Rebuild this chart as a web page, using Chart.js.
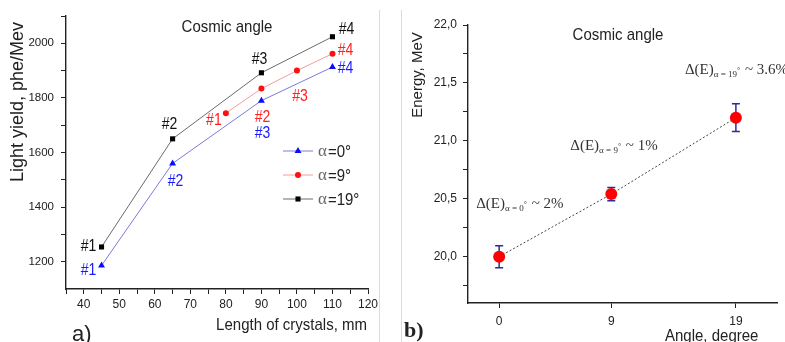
<!DOCTYPE html>
<html><head><meta charset="utf-8">
<script src="https://cdn.jsdelivr.net/npm/chart.js@4.4.1/dist/chart.umd.min.js"></script>
<style>
html,body{margin:0;padding:0;background:#fff;}
#wrap{position:relative;width:785px;height:342px;overflow:hidden;background:#fff;}
canvas{position:absolute;left:0;top:0;}
.sep{position:absolute;top:10px;width:1px;height:332px;background:#dcdcdc;}
</style></head><body>
<div id="wrap">
<div class="sep" style="left:379px"></div>
<div class="sep" style="left:401px"></div>
<canvas id="ca" width="785" height="342"></canvas>
<canvas id="cb" width="785" height="342"></canvas>
</div>
<script>
// ---------- Panel a) data ----------
const seriesNames = ['α=0°', 'α=9°', 'α=19°'];
const lengthA0 = [45, 65, 90, 110];
const yieldA0 = [1186, 1560, 1790, 1913];
const lengthA9 = [80, 90, 100, 110];
const yieldA9 = [1744, 1834, 1900, 1962];
const lengthA19 = [45, 65, 90, 110];
const yieldA19 = [1254, 1650, 1892, 2024];
const crystalA0 = ['#1', '#2', '#3', '#4'];
const crystalA9 = ['#1', '#2', '#3', '#4'];
const crystalA19 = ['#1', '#2', '#3', '#4'];
const lengthTicks = [35, 40, 45, 50, 55, 60, 65, 70, 75, 80, 85, 90, 95, 100, 105, 110, 115, 120];
const lengthTickLabels = [40, 50, 60, 70, 80, 90, 100, 110, 120];
const yieldTicks = [1200, 1300, 1400, 1500, 1600, 1700, 1800, 1900, 2000, 2100];
const yieldTickLabels = [1200, 1400, 1600, 1800, 2000];

// ---------- Panel b) data ----------
const angles = [0, 9, 19];
const energy = [20.0, 20.54, 21.2];
const energyErr = [0.095, 0.058, 0.12];
const angleTicks = [0, 9, 19];
const energyTicks = [19.75, 20.0, 20.25, 20.5, 20.75, 21.0, 21.25, 21.5, 21.75, 22.0];
const energyTickLabels = ['20,0', '20,5', '21,0', '21,5', '22,0'];
const spreadSub = ['α = 0', 'α = 9', 'α = 19'];
const spreadVal = ['~ 2%', '~ 1%', '~ 3.6%'];

const SANS = "'Liberation Sans', Arial, sans-serif";
const SERIF = "'Liberation Serif', 'Times New Roman', serif";
Chart.defaults.font.family = SANS;
Chart.defaults.color = '#222';

const zip = (xs, ys) => xs.map((x, i) => ({x: x, y: ys[i]}));

// draw text slightly stretched vertically (the reference figure is stretched)
function stretchText(ctx, text, x, y, sy) {
  ctx.save();
  ctx.translate(x, y);
  ctx.scale(1, sy);
  ctx.fillText(text, 0, 0);
  ctx.restore();
}

// ---------------- Chart a ----------------
const seriesStyle = [
  {line: '#7a7adc', mark: '#0a0aff', text: '#1a1aff', style: 'triangle', r: 4},
  {line: '#f29c9c', mark: '#ff1010', text: '#ff2020', style: 'circle', r: 3},
  {line: '#6a6a6a', mark: '#000000', text: '#111111', style: 'rect', r: 3.6}
];
const crystalLabels = [crystalA0, crystalA9, crystalA19];
const labelOffsets = [
  [[-13, 5], [3, 18], [1, 33], [13, 2]],
  [[-12, 7], [1, 29], [3, 26], [13, -3]],
  [[-13, 0], [-3, -14], [-2, -13], [14, -7]]
];

const panelAPlugin = {
  id: 'panelA',
  afterDatasetsDraw(chart) {
    const ctx = chart.ctx;
    ctx.save();
    ctx.font = '14px ' + SANS;
    ctx.textAlign = 'center';
    ctx.textBaseline = 'middle';
    chart.data.datasets.forEach((ds, si) => {
      const meta = chart.getDatasetMeta(si);
      meta.data.forEach((pt, i) => {
        const off = labelOffsets[si][i];
        ctx.fillStyle = seriesStyle[si].text;
        stretchText(ctx, crystalLabels[si][i], pt.x + off[0], pt.y + off[1], 1.15);
      });
    });
    // legend
    const lx0 = 283, lx1 = 313, ly = [151, 175, 199];
    seriesNames.forEach((name, si) => {
      const st = seriesStyle[si];
      ctx.strokeStyle = st.line; ctx.lineWidth = 1;
      ctx.beginPath(); ctx.moveTo(lx0, ly[si]); ctx.lineTo(lx1, ly[si]); ctx.stroke();
      ctx.fillStyle = st.mark; ctx.strokeStyle = st.mark;
      Chart.helpers.drawPoint(ctx, {pointStyle: st.style, radius: st.r, borderWidth: 0}, (lx0 + lx1) / 2, ly[si]);
      ctx.textAlign = 'left';
      ctx.fillStyle = '#666';
      ctx.font = '17px ' + SERIF;
      ctx.fillText(name.charAt(0), 318, ly[si] + 1);
      const w = ctx.measureText(name.charAt(0)).width;
      ctx.fillStyle = '#222';
      ctx.font = '15px ' + SANS;
      stretchText(ctx, name.slice(1), 318 + w + 1, ly[si] + 1, 1.1);
    });
    ctx.restore();
  },
  afterDraw(chart) {
    const ctx = chart.ctx;
    ctx.save();
    ctx.fillStyle = '#222';
    ctx.textBaseline = 'alphabetic';
    ctx.font = '15px ' + SANS;
    ctx.textAlign = 'center';
    stretchText(ctx, 'Cosmic angle', 227, 32, 1.12);
    ctx.textAlign = 'right';
    stretchText(ctx, 'Length of crystals, mm', 367, 330, 1.12);
    ctx.textAlign = 'left';
    ctx.font = '22px ' + SANS;
    ctx.fillText('a)', 72, 341);
    ctx.translate(18, 102);
    ctx.rotate(-Math.PI / 2);
    ctx.textAlign = 'center';
    ctx.textBaseline = 'middle';
    ctx.font = '18px ' + SANS;
    ctx.fillText('Light yield, phe/Mev', 0, 0);
    ctx.restore();
  }
};

const dsA = [[lengthA0, yieldA0], [lengthA9, yieldA9], [lengthA19, yieldA19]].map((p, si) => ({
  label: seriesNames[si],
  data: zip(p[0], p[1]),
  borderColor: seriesStyle[si].line,
  borderWidth: 1,
  pointStyle: seriesStyle[si].style,
  pointRadius: seriesStyle[si].r,
  pointBackgroundColor: seriesStyle[si].mark,
  pointBorderColor: seriesStyle[si].mark,
  pointBorderWidth: 0,
  tension: 0,
  fill: false
}));

new Chart(document.getElementById('ca'), {
  type: 'line',
  data: {datasets: dsA},
  options: {
    responsive: false, animation: false,
    layout: {padding: {left: 0, top: 16, right: 785 - 368, bottom: 0}},
    plugins: {legend: {display: false}, tooltip: {enabled: false}},
    scales: {
      x: {
        type: 'linear', min: 35, max: 120,
        afterBuildTicks: s => { s.ticks = lengthTicks.map(v => ({value: v})); },
        ticks: {autoSkip: false, maxRotation: 0, padding: 3, color: '#222', font: {size: 12},
          callback: v => lengthTickLabels.includes(v) ? String(v) : ''},
        grid: {drawOnChartArea: false, tickLength: 5, tickColor: '#222', tickWidth: 1},
        border: {color: '#222', width: 1.4},
        afterFit: s => { s.height = 342 - 289; s.paddingLeft = 0; s.paddingRight = 0; }
      },
      y: {
        type: 'linear', min: 1100, max: 2100,
        afterBuildTicks: s => { s.ticks = yieldTicks.map(v => ({value: v})); },
        ticks: {autoSkip: false, padding: 7, color: '#222', font: {size: 11.5},
          callback: v => yieldTickLabels.includes(v) ? String(v) : ''},
        grid: {drawOnChartArea: false, tickLength: 5, tickColor: '#222', tickWidth: 1},
        border: {color: '#222', width: 1.4},
        afterFit: s => { s.width = 66; s.paddingTop = 0; s.paddingBottom = 0; }
      }
    }
  },
  plugins: [panelAPlugin]
});

// ---------------- Chart b ----------------
const spreadOffsets = [[-23, -49], [-41, -44], [-51, -44]];

const panelBPlugin = {
  id: 'panelB',
  beforeDatasetsDraw(chart) {
    const {ctx, scales: {x, y}} = chart;
    ctx.save();
    ctx.strokeStyle = '#2d2d98';
    ctx.lineWidth = 1.5;
    angles.forEach((a, i) => {
      const px = x.getPixelForValue(a);
      const top = y.getPixelForValue(energy[i] + energyErr[i]);
      const bot = y.getPixelForValue(energy[i] - energyErr[i]);
      ctx.beginPath();
      ctx.moveTo(px, top); ctx.lineTo(px, bot);
      ctx.moveTo(px - 4, top); ctx.lineTo(px + 4, top);
      ctx.moveTo(px - 4, bot); ctx.lineTo(px + 4, bot);
      ctx.stroke();
    });
    ctx.restore();
  },
  afterDraw(chart) {
    const {ctx, scales: {x, y}} = chart;
    ctx.save();
    ctx.fillStyle = '#222';
    ctx.textBaseline = 'alphabetic';
    ctx.font = '15px ' + SANS;
    ctx.textAlign = 'center';
    stretchText(ctx, 'Cosmic angle', 618, 40, 1.12);
    ctx.textAlign = 'left';
    stretchText(ctx, 'Angle, degree', 665, 341, 1.12);
    ctx.font = 'bold 22px ' + SERIF;
    ctx.fillText('b)', 404, 337);
    // spread annotations
    ctx.fillStyle = '#333';
    angles.forEach((a, i) => {
      let px = x.getPixelForValue(a) + spreadOffsets[i][0];
      const base = y.getPixelForValue(energy[i]) + spreadOffsets[i][1];
      ctx.font = '15px ' + SERIF;
      ctx.fillText('Δ(E)', px, base);
      px += ctx.measureText('Δ(E)').width;
      ctx.font = '9px ' + SERIF;
      ctx.fillText(spreadSub[i], px, base + 3);
      px += ctx.measureText(spreadSub[i]).width;
      ctx.font = '8px ' + SERIF;
      ctx.fillText('°', px, base - 1);
      px += ctx.measureText('°').width + 1;
      ctx.font = '15px ' + SERIF;
      ctx.fillText(' ' + spreadVal[i], px, base);
    });
    ctx.fillStyle = '#222';
    ctx.translate(418, 75);
    ctx.rotate(-Math.PI / 2);
    ctx.textAlign = 'center';
    ctx.textBaseline = 'middle';
    ctx.font = '15px ' + SANS;
    ctx.fillText('Energy, MeV', 0, 0);
    ctx.restore();
  }
};

new Chart(document.getElementById('cb'), {
  type: 'line',
  data: {datasets: [{
    label: 'Energy',
    data: zip(angles, energy),
    borderColor: '#444',
    borderWidth: 1,
    borderDash: [2, 2],
    pointStyle: 'circle',
    pointRadius: 6,
    pointBackgroundColor: '#ff0000',
    pointBorderColor: '#ee0000',
    pointBorderWidth: 0,
    tension: 0,
    fill: false
  }]},
  options: {
    responsive: false, animation: false,
    layout: {padding: {left: 401, top: 25, right: 785 - 777, bottom: 0}},
    plugins: {legend: {display: false}, tooltip: {enabled: false}},
    scales: {
      x: {
        type: 'linear', min: -2.5, max: 22.3,
        afterBuildTicks: s => { s.ticks = angleTicks.map(v => ({value: v})); },
        ticks: {autoSkip: false, maxRotation: 0, padding: 6, color: '#222', font: {size: 12},
          callback: v => String(v)},
        grid: {drawOnChartArea: false, tickLength: 5, tickColor: '#222', tickWidth: 1},
        border: {color: '#222', width: 1.4},
        afterFit: s => { s.height = 342 - 303; s.paddingLeft = 0; s.paddingRight = 0; }
      },
      y: {
        type: 'linear', min: 19.6, max: 22.0,
        afterBuildTicks: s => { s.ticks = energyTicks.map(v => ({value: v})); },
        ticks: {autoSkip: false, padding: 6, color: '#222', font: {size: 12},
          callback: v => { const t = v.toFixed(1).replace('.', ','); return (Math.abs(v * 2 - Math.round(v * 2)) < 1e-6 && energyTickLabels.includes(t)) ? t : ''; }},
        grid: {drawOnChartArea: false, tickLength: 5, tickColor: '#222', tickWidth: 1},
        border: {color: '#222', width: 1.4},
        afterFit: s => { s.width = 67; s.paddingTop = 0; s.paddingBottom = 0; }
      }
    }
  },
  plugins: [panelBPlugin]
});
</script>
</body></html>
